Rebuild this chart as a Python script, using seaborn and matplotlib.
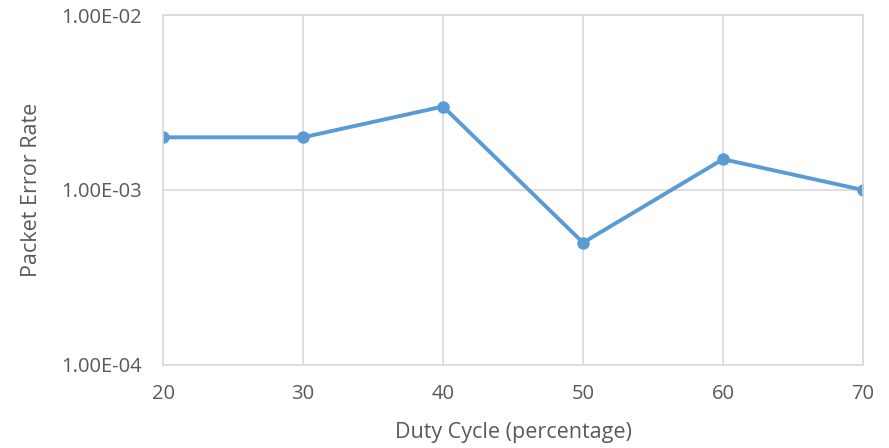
import math
import matplotlib
matplotlib.use("Agg")
import matplotlib.pyplot as plt
import matplotlib.ticker as mticker
import seaborn as sns
import pandas as pd

# values
duty_cycle = [20, 30, 40, 50, 60, 70]
packet_error_rate = [2.0e-3, 2.0e-3, 3.0e-3, 5.0e-4, 1.5e-3, 1.0e-3]
y_ticks = [1e-4, 1e-3, 1e-2]

df = pd.DataFrame({'duty': duty_cycle, 'per': packet_error_rate})

sns.set_style("whitegrid", {'grid.color': '#d9d9d9', 'axes.edgecolor': '#d9d9d9'})
plt.rcParams['font.family'] = ['Open Sans', 'DejaVu Sans']

fig = plt.figure(figsize=(8.89, 4.48), dpi=100)
ax = fig.add_axes([0.1834, 0.1853, 0.7874, 0.7812])

sns.lineplot(x='duty', y='per', data=df, ax=ax, color='#5b9bd5', linewidth=2.8,
             marker='o', markersize=9, markeredgewidth=0)

ax.set_yscale('log')
ax.set_ylim(1e-4, 1e-2)
ax.set_xlim(20, 70)
ax.set_xticks(duty_cycle)
ax.set_yticks(y_ticks)
ax.yaxis.set_minor_locator(mticker.NullLocator())
# excel style labels like 1.00E-03
ax.yaxis.set_major_formatter(mticker.FuncFormatter(lambda v, p: '1.00E-%02d' % (-int(round(math.log10(v))))))

ax.grid(True, which='major', color='#d9d9d9', linewidth=1.2)
for s in ax.spines.values():
    s.set_color('#d9d9d9')
    s.set_linewidth(1.2)
ax.tick_params(axis='both', length=0, labelsize=14.5, colors='#595959')
ax.tick_params(axis='x', pad=14)
ax.tick_params(axis='y', pad=15)

ax.set_xlabel('Duty Cycle (percentage)', fontsize=15.5, color='#595959', labelpad=13)
ax.set_ylabel('Packet Error Rate', fontsize=15.5, color='#595959', labelpad=14)

fig.savefig('out.png', dpi=100, facecolor='white')
